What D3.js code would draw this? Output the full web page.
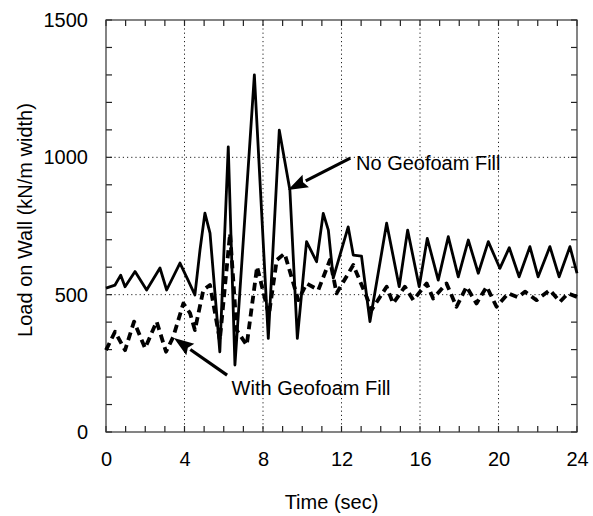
<!DOCTYPE html>
<svg width="593" height="516"></svg>
<script src="https://d3js.org/d3.v7.min.js"></script>

<style>
body { margin: 0; background: #fff; }
svg { display: block; }
.tick_label { font: 20px "Liberation Sans", Arial, Helvetica, sans-serif; fill: #000; }
.axis_title { font: 20px "Liberation Sans", Arial, Helvetica, sans-serif; fill: #000; }
</style>

<script>

// no geofoam fill (solid)
var noFoamTime = [0, 0.46, 0.75, 0.97, 1.48, 2.07, 2.75, 3.09, 3.77, 4.18, 4.53, 4.79, 5.04, 5.3, 5.8,
  6.23, 6.57, 7.3, 7.56, 8.27, 8.83, 9.37, 9.75, 10.22, 10.73, 11.07, 11.33, 11.58, 12.34, 12.6, 13.02,
  13.45, 14.04, 14.3, 14.94, 15.37, 15.96, 16.37, 16.93, 17.44, 17.95, 18.46, 18.97, 19.48, 20.07,
  20.55, 21.05, 21.6, 22.02, 22.62, 23.09, 23.64, 24];
var noFoamLoad = [524, 535, 571, 529, 584, 517, 597, 517, 615, 553, 499, 663, 797, 724, 292,
  1038, 244, 1020, 1300, 341, 1099, 881, 341, 693, 620, 796, 735, 560, 747, 644, 640,
  402, 650, 760, 529, 735, 529, 705, 553, 711, 565, 699, 578, 693, 596,
  671, 565, 675, 565, 675, 565, 675, 578];

// with geofoam fill (dashed)
var foamTime = [0, 0.46, 0.97, 1.43, 1.99, 2.58, 3.06, 3.43, 3.94, 4.28, 4.53, 4.96, 5.3, 5.8,
  6.32, 6.66, 7.17, 7.7, 8.3, 8.7, 9.1, 9.8, 10.22, 10.82, 11.41, 11.75, 12.6, 13.28, 13.53,
  14.3, 14.63, 15.23, 15.66, 16.34, 16.67, 17.35, 17.86, 18.37, 18.88, 19.4, 19.9, 20.5, 21.0,
  21.35, 21.94, 22.62, 23.13, 23.55, 24];
var foamLoad = [298, 365, 298, 402, 305, 402, 292, 347, 468, 433, 371, 517, 535, 335,
  723, 371, 316, 602, 426, 626, 650, 480, 541, 517, 626, 505, 608, 492, 444,
  529, 468, 529, 480, 541, 486, 541, 456, 529, 468, 529, 456, 505, 490,
  511, 480, 517, 474, 505, 492];

var xTicks = [0, 4, 8, 12, 16, 20, 24];
var yTicks = [0, 500, 1000, 1500];
var xGrid = [4, 8, 12, 16, 20];
var yGrid = [500, 1000];
var xMinor = d3.range(0, 25, 1);
var yMinor = d3.range(0, 1501, 100);

var svg = d3.select("svg"),
    margin = {top: 20, right: 16, bottom: 84, left: 106},
    width = +svg.attr("width") - margin.left - margin.right,
    height = +svg.attr("height") - margin.top - margin.bottom,
    g = svg.append("g").attr("transform", "translate(" + margin.left + "," + margin.top + ")");

var x = d3.scaleLinear().domain([0, 24]).range([0, width]);
var y = d3.scaleLinear().domain([0, 1500]).range([height, 0]);

// dotted grid
g.selectAll(".xgrid").data(xGrid).enter().append("line")
    .attr("x1", function(d) { return x(d); }).attr("x2", function(d) { return x(d); })
    .attr("y1", 0).attr("y2", height)
    .attr("stroke", "#222").attr("stroke-width", 1).attr("stroke-dasharray", "1.2,3");
g.selectAll(".ygrid").data(yGrid).enter().append("line")
    .attr("x1", 0).attr("x2", width)
    .attr("y1", function(d) { return y(d); }).attr("y2", function(d) { return y(d); })
    .attr("stroke", "#222").attr("stroke-width", 1).attr("stroke-dasharray", "1.2,3");

// inward minor ticks on all four sides
var tickLen = 6;
function tickLines(cls, data, fn) {
  g.selectAll("line." + cls).data(data).enter().append("line")
      .attr("class", cls)
      .attr("stroke", "#222").attr("stroke-width", 1.2)
      .each(function(d) {
        var c = fn(d);
        d3.select(this).attr("x1", c[0]).attr("y1", c[1]).attr("x2", c[2]).attr("y2", c[3]);
      });
}
tickLines("xb", xMinor, function(d) { return [x(d), height, x(d), height - tickLen]; });
tickLines("xt", xMinor, function(d) { return [x(d), 0, x(d), tickLen]; });
tickLines("yl", yMinor, function(d) { return [0, y(d), tickLen, y(d)]; });
tickLines("yr", yMinor, function(d) { return [width, y(d), width - tickLen, y(d)]; });

// frame
g.append("rect")
    .attr("width", width).attr("height", height)
    .attr("fill", "none").attr("stroke", "#333").attr("stroke-width", 1.2);

// tick labels
var xLabels = g.append("g").attr("transform", "translate(0," + height + ")")
    .call(d3.axisBottom(x).tickValues(xTicks).tickSize(0).tickPadding(20).tickFormat(d3.format("d")));
var yLabels = g.append("g")
    .call(d3.axisLeft(y).tickValues(yTicks).tickSize(0).tickPadding(18).tickFormat(d3.format("d")));
[xLabels, yLabels].forEach(function(a) {
  a.select(".domain").remove();
  a.attr("font-size", null).attr("font-family", null);
  a.selectAll("text").attr("class", "tick_label");
});

// series
var noFoam = noFoamTime.map(function(t, i) { return {t: t, v: noFoamLoad[i]}; });
var foam = foamTime.map(function(t, i) { return {t: t, v: foamLoad[i]}; });

var line = d3.line()
    .x(function(d) { return x(d.t); })
    .y(function(d) { return y(d.v); });

g.append("path")
    .datum(foam)
    .attr("fill", "none")
    .attr("stroke", "#000")
    .attr("stroke-width", 3.8)
    .attr("stroke-dasharray", "8,5")
    .attr("stroke-linejoin", "round")
    .attr("d", line);

g.append("path")
    .datum(noFoam)
    .attr("fill", "none")
    .attr("stroke", "#000")
    .attr("stroke-width", 2.8)
    .attr("stroke-linejoin", "round")
    .attr("d", line);

// annotations
function arrow(t0, v0, t1, v1) {
  var x0 = x(t0), y0 = y(v0), x1 = x(t1), y1 = y(v1);
  var a = Math.atan2(y1 - y0, x1 - x0), len = 20, w = 7;
  var bx = x1 - len * Math.cos(a), by = y1 - len * Math.sin(a);
  g.append("line")
      .attr("x1", x0).attr("y1", y0).attr("x2", bx).attr("y2", by)
      .attr("stroke", "#000").attr("stroke-width", 3.2);
  g.append("path")
      .attr("d", "M" + x1 + "," + y1 +
        "L" + (bx + w * Math.sin(a)) + "," + (by - w * Math.cos(a)) +
        "L" + (bx + 3 * Math.cos(a)) + "," + (by + 3 * Math.sin(a)) +
        "L" + (bx - w * Math.sin(a)) + "," + (by + w * Math.cos(a)) + "Z")
      .attr("fill", "#000");
}

arrow(12.45, 997, 9.27, 881);
g.append("text").attr("class", "axis_title")
    .attr("x", x(12.74)).attr("y", y(954))
    .text("No Geofoam Fill");

arrow(6.17, 207, 3.46, 342);
g.append("text").attr("class", "axis_title")
    .attr("x", x(6.4)).attr("y", y(135))
    .text("With Geofoam Fill");

// axis titles
svg.append("text").attr("class", "axis_title")
    .attr("text-anchor", "middle")
    .attr("x", margin.left + width / 2 - 10)
    .attr("y", 509)
    .text("Time (sec)");

svg.append("text").attr("class", "axis_title")
    .attr("text-anchor", "middle")
    .attr("transform", "translate(32," + (margin.top + height / 2 - 6) + ") rotate(-90)")
    .text("Load on Wall (kN/m width)");

</script>
